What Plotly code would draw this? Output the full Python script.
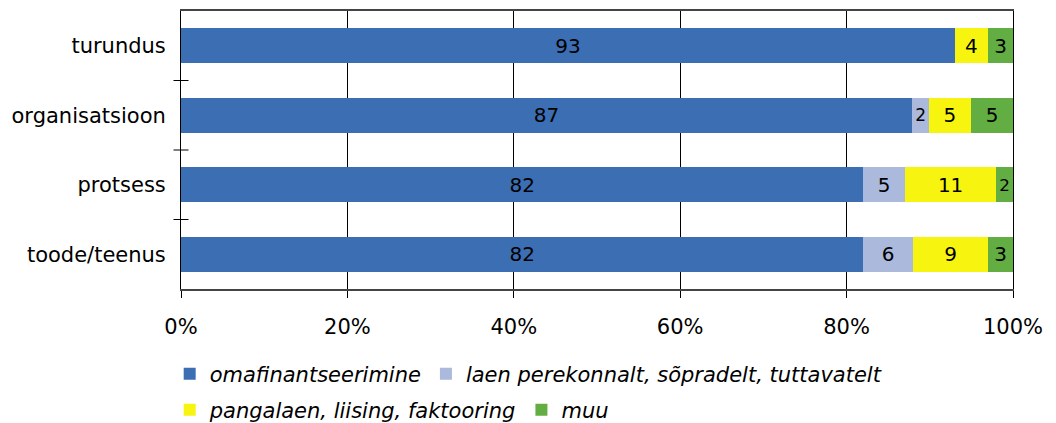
import plotly.graph_objects as go

# categories bottom -> top as plotly draws them
categories = ["toode/teenus", "protsess", "organisatsioon", "turundus"]

omafinantseerimine = [82, 82, 87, 93]
laen_lahedastelt = [6, 5, 2, 0]
pangalaen = [9, 11, 5, 4]
muu = [3, 2, 5, 3]

series = [
    ("omafinantseerimine", omafinantseerimine, "#3C6EB4", "legend"),
    ("laen perekonnalt, sõpradelt, tuttavatelt", laen_lahedastelt, "#AAB9DC", "legend"),
    ("pangalaen, liising, faktooring", pangalaen, "#F7F40F", "legend2"),
    ("muu", muu, "#62AE42", "legend2"),
]

FONT = "DejaVu Sans"

fig = go.Figure()
for name, vals, color, leg in series:
    fig.add_trace(go.Bar(
        y=categories,
        x=vals,
        name=name,
        orientation="h",
        marker=dict(color=color, line=dict(width=0)),
        text=[str(v) if v else "" for v in vals],
        textposition="inside",
        textangle=0,
        insidetextanchor="middle",
        textfont=dict(color="black", size=20, family=FONT),
        legend=leg,
    ))

# small tick marks between the categories, crossing the y axis
for b in [0.5, 1.5, 2.5]:
    fig.add_shape(type="line", xref="paper", yref="y", x0=-0.009, x1=0.009,
                  y0=b, y1=b, line=dict(color="black", width=1))

legend_style = dict(
    orientation="h", x=-0.0136, xanchor="left", yanchor="top",
    font=dict(size=21, style="italic"), traceorder="normal",
    itemwidth=30, tracegroupgap=0,
)

# the page body adds 8px on the left and top, so the figure is 8px smaller
fig.update_layout(
    barmode="stack",
    barnorm="percent",
    bargap=0.5,
    width=1048,
    height=415,
    margin=dict(l=173, r=43, t=3, b=134, autoexpand=False),
    plot_bgcolor="white",
    paper_bgcolor="white",
    font=dict(family=FONT, size=21, color="black"),
    legend=dict(legend_style, y=-0.232),
    legend2=dict(legend_style, y=-0.362),
)

fig.update_xaxes(
    range=[0, 100],
    tickvals=[0, 20, 40, 60, 80, 100],
    ticktext=["0%", "20%", "40%", "60%", "80%", "100%"],
    tickfont=dict(size=21),
    showgrid=True, gridcolor="black", gridwidth=1,
    showline=True, linecolor="#444", linewidth=2, mirror=True,
    ticks="outside", ticklen=7, tickcolor="black",
    ticklabelstandoff=11,
    zeroline=False,
    automargin=False,
)
fig.update_yaxes(
    tickfont=dict(size=21),
    showline=True, linecolor="black", linewidth=1, mirror=True,
    ticks="", ticklabelstandoff=10,
    showgrid=False,
    automargin=False,
)

fig.write_html("out.html")
